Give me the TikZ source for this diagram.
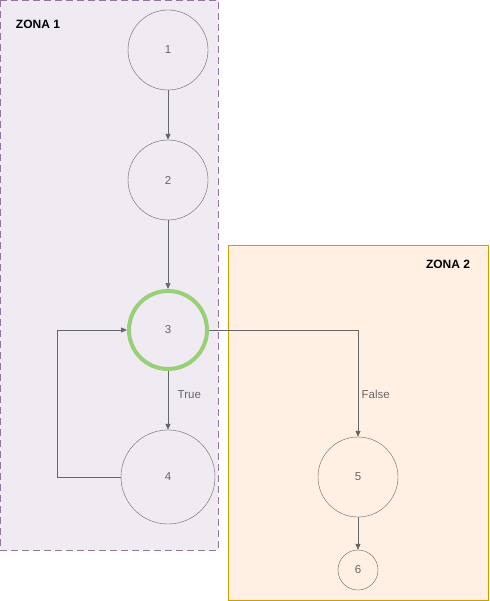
\documentclass[tikz,border=0pt]{standalone}
\usepackage{fontspec}
\setmainfont{Liberation Sans}
\usetikzlibrary{arrows.meta, positioning}

\definecolor{zoneonefill}{HTML}{F0EAF3}
\definecolor{zoneonedraw}{HTML}{9673A6}
\definecolor{zonetwofill}{HTML}{FFF0E3}
\definecolor{zonetwodraw}{HTML}{D79B00}
\definecolor{edgegray}{HTML}{666666}
\definecolor{nodegreen}{HTML}{97D077}

\begin{document}
\begin{tikzpicture}[
  x=1pt, y=-1pt,
  every node/.style={font=\fontsize{11.5}{13}\selectfont},
  state/.style={draw=edgegray, circle, inner sep=0pt, text=edgegray},
  flow/.style={-{Triangle[length=6pt,width=5pt]}, edgegray, line width=0.7pt},
  zonelabel/.style={font=\fontsize{12}{14}\selectfont\bfseries}
]
  \useasboundingbox (0,0) rectangle (489,601);

  % zones
  \draw[zoneonedraw!80!gray, fill=zoneonefill, dash pattern=on 7pt off 4pt] (0,0) rectangle (218,550);
  \draw[zonetwodraw, fill=zonetwofill] (228,245) rectangle (488,600);
  \node[zonelabel] (z1) at (38,24)  {ZONA 1};
  \node[zonelabel] (z2) at (448,264) {ZONA 2};

  % states
  \node[state, minimum size=80pt] (n1) at (168,50)  {1};
  \node[state, minimum size=80pt] (n2) at (168,180) {2};
  \node[state, minimum size=78pt, draw=nodegreen, line width=4pt] (n3) at (168,330) {3};
  \node[state, minimum size=94pt] (n4) at (168,477) {4};
  \node[state, minimum size=80pt] (n5) at (358,477) {5};
  \node[state, minimum size=40pt] (n6) at (358,570) {6};

  % connectors
  \draw[flow] (n1) -- (n2);
  \draw[flow] (n2) -- (n3);
  \draw[flow] (n3) -- node[pos=0.4, right, xshift=6pt, text=edgegray] {True} (n4);
  \draw[flow] (n3.east) -| node[pos=0.8, right, xshift=0pt, text=edgegray] {False} (n5.north);
  \draw[flow] (n4.west) -- ++(-63,0) |- (n3.west);
  \draw[flow] (n5) -- (n6);
\end{tikzpicture}
\end{document}
